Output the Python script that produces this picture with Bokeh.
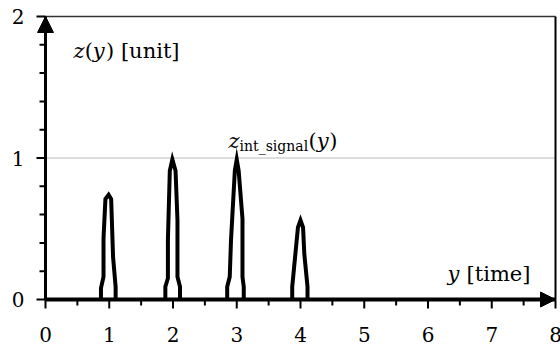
from bokeh.plotting import figure
from bokeh.models import Range1d, Arrow, NormalHead, Label, ColumnDataSource
from bokeh.core.properties import value
from bokeh.embed import file_html
from bokeh.resources import INLINE

# Integrated signal trace: one thin pulse per time step (x = time, y = z)
pulse1_x = [0.87, 0.87, 0.91, 0.91, 0.94, 0.99, 1.03, 1.06, 1.10, 1.10]
pulse1_y = [0.00, 0.08, 0.16, 0.43, 0.71, 0.74, 0.71, 0.30, 0.09, 0.00]
pulse2_x = [1.88, 1.88, 1.92, 1.92, 1.95, 1.99, 2.04, 2.07, 2.07, 2.11, 2.11]
pulse2_y = [0.00, 0.09, 0.15, 0.42, 0.91, 0.99, 0.91, 0.56, 0.16, 0.09, 0.00]
pulse3_x = [2.85, 2.85, 2.89, 2.91, 2.97, 3.00, 3.03, 3.09, 3.09, 3.11, 3.11]
pulse3_y = [0.00, 0.09, 0.16, 0.42, 0.91, 0.99, 0.91, 0.57, 0.16, 0.09, 0.00]
pulse4_x = [3.87, 3.87, 3.90, 3.96, 4.00, 4.04, 4.06, 4.11, 4.11]
pulse4_y = [0.00, 0.09, 0.23, 0.51, 0.56, 0.51, 0.32, 0.09, 0.00]

signal_level = 1.0

x_major = [0, 1, 2, 3, 4, 5, 6, 7, 8]
x_minor = [0.5, 1.5, 2.5, 3.5, 4.5, 5.5, 6.5, 7.5]
y_major = [0, 1, 2]
y_minor = [0.2, 0.4, 0.6, 0.8, 1.2, 1.4, 1.6, 1.8]
x_labels = [str(v) for v in x_major]
y_labels = [str(v) for v in y_major]
X_MIN, X_MAX = 0, 8
Y_MIN, Y_MAX = 0, 2

# canvas and margins (px) round the axes box
W, H = 560, 352
LEFT, RIGHT, TOP, BOTTOM = 45, 5, 16, 53
PX_X = (W - LEFT - RIGHT) / (X_MAX - X_MIN)
PX_Y = (H - TOP - BOTTOM) / (Y_MAX - Y_MIN)
MAJOR_TICK, MINOR_TICK = 9, 6
FONT = "DejaVu Serif"

p = figure(width=W, height=H, output_backend="svg", toolbar_location=None,
           x_range=Range1d(X_MIN - LEFT / PX_X, X_MAX + RIGHT / PX_X),
           y_range=Range1d(Y_MIN - BOTTOM / PX_Y, Y_MAX + TOP / PX_Y),
           x_axis_location=None, y_axis_location=None,
           min_border=0)
p.grid.visible = False
p.outline_line_color = None
p.background_fill_color = "white"
p.border_fill_color = "white"

# reference level for the integrated signal
p.segment(x0=X_MIN, y0=signal_level, x1=X_MAX, y1=signal_level,
          line_color="#777777", line_dash="1 1", line_width=1)

# frame: top and right borders
p.segment(x0=X_MIN, y0=Y_MAX, x1=X_MAX, y1=Y_MAX, line_color="#333333", line_width=1.5)
p.segment(x0=X_MAX, y0=Y_MIN, x1=X_MAX, y1=Y_MAX, line_color="black", line_width=2)

p.multi_line([pulse1_x, pulse2_x, pulse3_x, pulse4_x],
             [pulse1_y, pulse2_y, pulse3_y, pulse4_y],
             line_color="black", line_width=4, line_join="miter")

# axis lines
p.segment(x0=X_MIN, y0=Y_MIN, x1=X_MAX, y1=Y_MIN, line_color="black", line_width=4)
p.segment(x0=X_MIN, y0=Y_MIN, x1=X_MIN, y1=Y_MAX, line_color="black", line_width=3)

# outward ticks, drawn as headless arrows
ticks = dict(x0=[], y0=[], x1=[], y1=[])
for vals, length in ((x_major, MAJOR_TICK), (x_minor, MINOR_TICK)):
    for t in vals:
        ticks["x0"].append(t)
        ticks["x1"].append(t)
        ticks["y0"].append(Y_MIN)
        ticks["y1"].append(Y_MIN - length / PX_Y)
for vals, length in ((y_major, MAJOR_TICK), (y_minor, MINOR_TICK)):
    for t in vals:
        ticks["x0"].append(X_MIN)
        ticks["x1"].append(X_MIN - length / PX_X)
        ticks["y0"].append(t)
        ticks["y1"].append(t)
p.add_layout(Arrow(source=ColumnDataSource(ticks), x_start="x0", y_start="y0",
                   x_end="x1", y_end="y1", start=None, end=None,
                   line_color="black", line_width=2))

p.text(x=x_major, y=[Y_MIN - 27 / PX_Y] * len(x_major), text=x_labels,
       text_font=value(FONT), text_font_size="20px", text_color="black",
       text_align="center", text_baseline="top")
p.text(x=[X_MIN - 21 / PX_X] * len(y_major), y=y_major, text=y_labels,
       text_font=value(FONT), text_font_size="20px", text_color="black",
       text_align="right", text_baseline="middle")

# arrow heads on both axes
p.add_layout(Arrow(end=NormalHead(size=16, fill_color="black", line_color="black"),
                   x_start=X_MIN, y_start=Y_MAX - 0.1, x_end=X_MIN, y_end=Y_MAX, line_width=3))
p.add_layout(Arrow(end=NormalHead(size=15, fill_color="black", line_color="black"),
                   x_start=X_MAX - 0.2, y_start=Y_MIN, x_end=X_MAX, y_end=Y_MIN, line_width=4))


def rich_label(x, y, parts):
    """parts: (text, italic, size_px, dx, dy) pieces written side by side."""
    for text, italic, size, dx, dy in parts:
        p.add_layout(Label(x=x, y=y, x_offset=dx, y_offset=dy, text=text,
                           text_font=FONT, text_font_size=f"{size}px",
                           text_font_style="italic" if italic else "normal",
                           text_align="left", text_baseline="alphabetic",
                           text_color="black"))


rich_label(0.44, 1.753, [("z", True, 21, 0, 0), ("(", False, 21, 11.1, 0),
                         ("y", True, 21, 19.3, 0), (") [unit]", False, 21, 32.5, 0)])
rich_label(6.306, 0.177, [("y", True, 21, 0, 0), ("[time]", False, 21, 19.1, 0)])
rich_label(2.87, 1.117, [("z", True, 21, 0, 0), ("int_signal", False, 14, 11.1, -5),
                         ("(", False, 21, 80.0, 0), ("y", True, 21, 88.3, 0),
                         (")", False, 21, 100.7, 0)])

open("out.html", "w").write(file_html(p, INLINE))
